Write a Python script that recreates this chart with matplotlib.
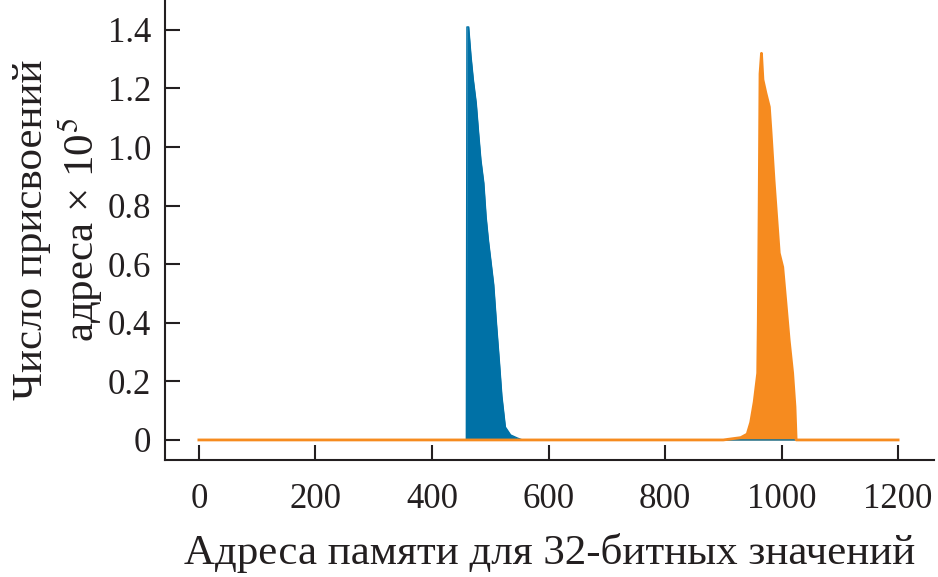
import numpy as np
import matplotlib.pyplot as plt

plt.rcParams['font.family'] = ['Liberation Serif', 'DejaVu Serif']
plt.rcParams['mathtext.fontset'] = 'stix'

# Blue peak (first address block)
blue_addr = [0, 459, 460, 463, 467, 471, 476, 480, 484, 489, 493, 497, 501,
             506, 511, 516, 520, 526, 535, 546, 555, 1200]
blue_cnt = [0, 0, 1.41, 1.41, 1.31, 1.23, 1.15, 1.05, 0.956, 0.877, 0.76,
            0.68, 0.614, 0.53, 0.39, 0.26, 0.15, 0.044, 0.017, 0.007, 0, 0]

# Orange peak (second address block)
orange_addr = [0, 900, 930, 941, 947, 953, 959, 960, 961.5, 963, 965.5, 968,
               973, 979, 982, 987, 996, 1002, 1007, 1013, 1019, 1023, 1025, 1200]
orange_cnt = [0, 0.0, 0.008, 0.02, 0.06, 0.13, 0.228, 0.4, 0.796, 1.25,
              1.32, 1.23, 1.185, 1.137, 1.048, 0.888, 0.638, 0.59, 0.478,
              0.341, 0.228, 0.113, 0, 0]

x_ticks = [0, 200, 400, 600, 800, 1000, 1200]
y_ticks = [0, 0.2, 0.4, 0.6, 0.8, 1.0, 1.2, 1.4]
y_tick_labels = ['0', '0.2', '0.4', '0.6', '0.8', '1.0', '1.2', '1.4']

blue = '#0071a6'
orange = '#f68b1f'
ink = '#231f20'

fig = plt.figure(figsize=(9.38, 5.77), dpi=100)
ax = fig.add_axes([0.176, 0.203, 0.82, 0.797])

ax.fill_between(blue_addr, blue_cnt, color=blue, lw=0)
ax.plot(blue_addr, blue_cnt, color=blue, lw=1)
ax.fill_between(orange_addr, orange_cnt, color=orange, lw=0)
ax.plot(orange_addr, orange_cnt, color=orange, lw=2)

ax.set_xlim(-58, 1262)
ax.set_ylim(-0.068, 1.502)
ax.set_xticks(x_ticks)
ax.set_yticks(y_ticks)
ax.set_yticklabels(y_tick_labels)

for s in ['top', 'right']:
    ax.spines[s].set_visible(False)
for s in ['left', 'bottom']:
    ax.spines[s].set_linewidth(1.5)
    ax.spines[s].set_color(ink)

ax.tick_params(direction='in', length=11, width=1.5, labelsize=25,
               colors=ink)
ax.tick_params(axis='x', pad=17)
ax.tick_params(axis='y', pad=10)

ax.set_xlabel('Адреса памяти для 32-битных значений', fontsize=31,
              color=ink, labelpad=12)
ax.set_ylabel('Число присвоений\nадреса × 10$^5$', fontsize=31,
              color=ink, labelpad=2, linespacing=1.1)

fig.savefig('out.png', dpi=100)
